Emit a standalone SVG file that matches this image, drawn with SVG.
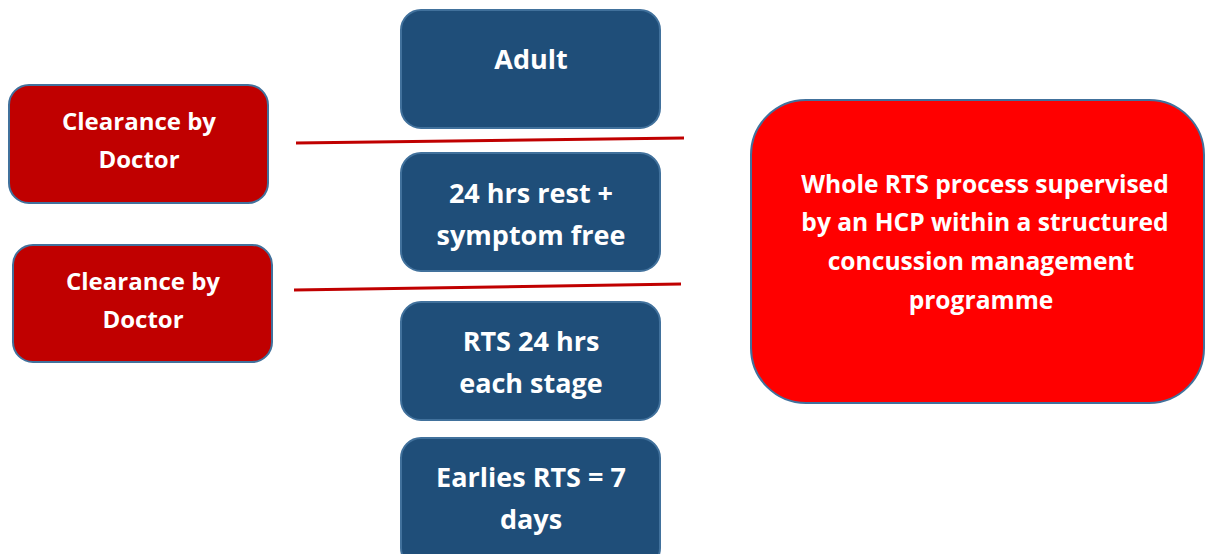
<svg xmlns="http://www.w3.org/2000/svg" width="1205" height="554" viewBox="0 0 1205 554">
<style>
.blue{fill:#1F4E79;stroke:#41719C;stroke-width:2}
.dred{fill:#C00000;stroke:#41719C;stroke-width:2}
.red{fill:#FF0000;stroke:#41719C;stroke-width:2}
text{font-family:"Open Sans",Lato,"Liberation Sans",sans-serif;font-weight:bold;fill:#FFFFFF;text-anchor:middle}
.t26{font-size:27px}
.t24{font-size:24px}
.t25{font-size:24.6px}
.conn{stroke:#C00000;stroke-width:3;fill:none}
</style>
<rect width="1205" height="554" fill="#FFFFFF"/>
<g id="connectors">
<line class="conn" x1="296" y1="143" x2="684" y2="138"/>
<line class="conn" x1="294" y1="290" x2="681" y2="284"/>
</g>
<g id="adult">
<rect class="blue" x="401" y="10" width="259" height="118" rx="20"/>
<text class="t26" x="531" y="69">Adult</text>
</g>
<g id="rest">
<rect class="blue" x="401" y="153" width="259" height="118" rx="20"/>
<text class="t26" x="531" y="203">24 hrs rest +</text>
<text class="t26" x="531" y="245">symptom free</text>
</g>
<g id="rts">
<rect class="blue" x="401" y="302" width="259" height="118" rx="20"/>
<text class="t26" x="531" y="351">RTS 24 hrs</text>
<text class="t26" x="531" y="393">each stage</text>
</g>
<g id="earliest">
<rect class="blue" x="401" y="438" width="259" height="130" rx="20"/>
<text class="t26" x="531" y="487">Earlies RTS = 7</text>
<text class="t26" x="531" y="529">days</text>
</g>
<g id="clearance1">
<rect class="dred" x="9" y="85" width="259" height="118" rx="20"/>
<text class="t24" x="139" y="130">Clearance by</text>
<text class="t24" x="139" y="168">Doctor</text>
</g>
<g id="clearance2">
<rect class="dred" x="13" y="245" width="259" height="117" rx="20"/>
<text class="t24" x="143" y="290">Clearance by</text>
<text class="t24" x="143" y="328">Doctor</text>
</g>
<g id="supervised">
<rect class="red" x="751" y="100" width="453" height="303" rx="55"/>
<text class="t25" x="985" y="193">Whole RTS process supervised</text>
<text class="t25" x="985" y="231">by an HCP within a structured</text>
<text class="t25" x="981" y="270">concussion management</text>
<text class="t25" x="981" y="309">programme</text>
</g>
</svg>
